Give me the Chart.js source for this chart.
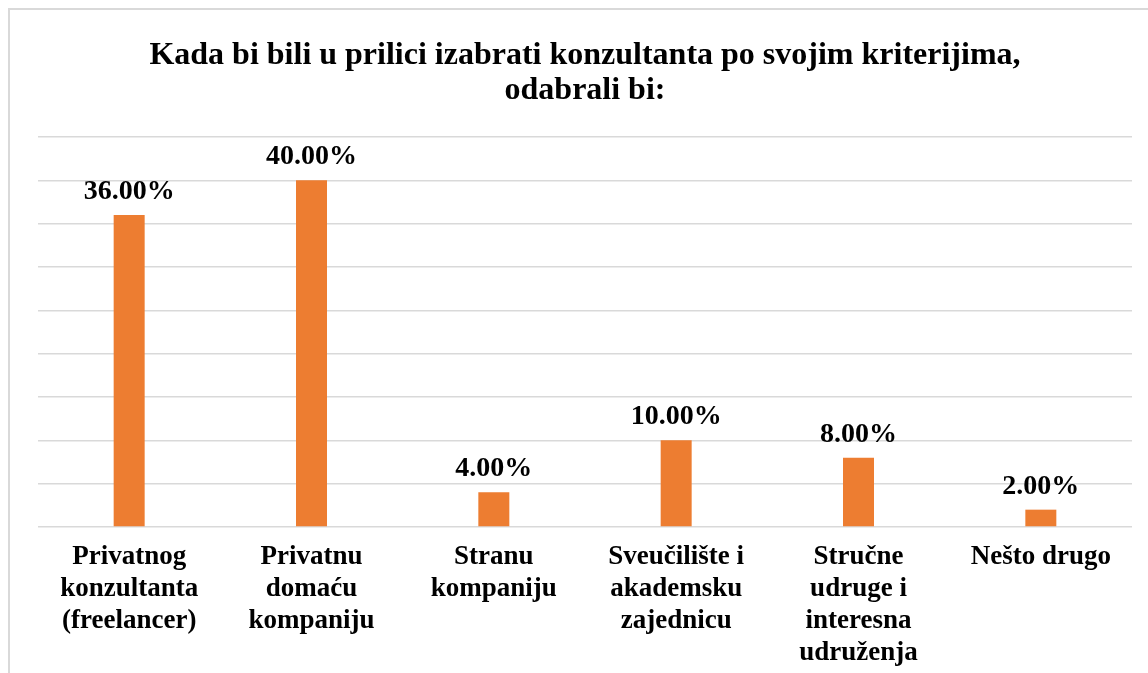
<!DOCTYPE html>
<html>
<head>
<meta charset="utf-8">
<script src="https://cdn.jsdelivr.net/npm/chart.js@4.4.1/dist/chart.umd.min.js"></script>
<style>
  html, body { margin: 0; padding: 0; background: #fff; overflow: hidden; }
  #frame { position: absolute; left: 8px; top: 8px; width: 1200px; height: 700px; border: 2px solid #d9d9d9; }
  #wrap { position: absolute; left: 0; top: 0; width: 1148px; height: 673px; }
</style>
</head>
<body>
<div id="frame"></div>
<div id="wrap"><canvas id="chart"></canvas></div>
<script>
const categories = [
  ['Privatnog', 'konzultanta', '(freelancer)'],
  ['Privatnu', 'domaću', 'kompaniju'],
  ['Stranu', 'kompaniju'],
  ['Sveučilište i', 'akademsku', 'zajednicu'],
  ['Stručne', 'udruge i', 'interesna', 'udruženja'],
  ['Nešto drugo']
];
const values = [36, 40, 4, 10, 8, 2];
const titleLines = ['Kada bi bili u prilici izabrati konzultanta po svojim kriterijima,', 'odabrali bi:'];

const serif = '"Liberation Serif", "Times New Roman", serif';

// percentage labels above the bars
const valueLabels = {
  id: 'valueLabels',
  afterDatasetsDraw(chart) {
    const ctx = chart.ctx;
    const meta = chart.getDatasetMeta(0);
    ctx.save();
    ctx.font = 'bold 28px ' + serif;
    ctx.fillStyle = '#000';
    ctx.textAlign = 'center';
    ctx.textBaseline = 'alphabetic';
    meta.data.forEach((bar, i) => {
      ctx.fillText(values[i].toFixed(2) + '%', bar.x, bar.y - 16);
    });
    ctx.restore();
  }
};

new Chart(document.getElementById('chart'), {
  type: 'bar',
  data: {
    labels: categories,
    datasets: [{
      data: values,
      backgroundColor: '#ED7D31',
      categoryPercentage: 1,
      barPercentage: 0.17
    }]
  },
  options: {
    responsive: true,
    maintainAspectRatio: false,
    animation: false,
    layout: { padding: { left: 38, right: 16, top: 28, bottom: 0 } },
    plugins: {
      legend: { display: false },
      tooltip: { enabled: false },
      title: {
        display: true,
        text: titleLines,
        color: '#000',
        font: { family: serif, size: 32, weight: 'bold', lineHeight: 1.1 },
        padding: { top: 10, bottom: 28.6 }
      }
    },
    scales: {
      x: {
        grid: { display: false },
        border: { display: false },
        afterFit(scale) { scale.height = 146; },
        ticks: {
          color: '#000',
          maxRotation: 0,
          autoSkip: false,
          padding: 6,
          font: { family: serif, size: 27, weight: 'bold', lineHeight: 1.185 }
        }
      },
      y: {
        min: 0,
        max: 45,
        ticks: { stepSize: 5, display: false },
        border: { display: false },
        grid: { color: '#d9d9d9', lineWidth: 1.5, drawTicks: false }
      }
    }
  },
  plugins: [valueLabels]
});
</script>
</body>
</html>
